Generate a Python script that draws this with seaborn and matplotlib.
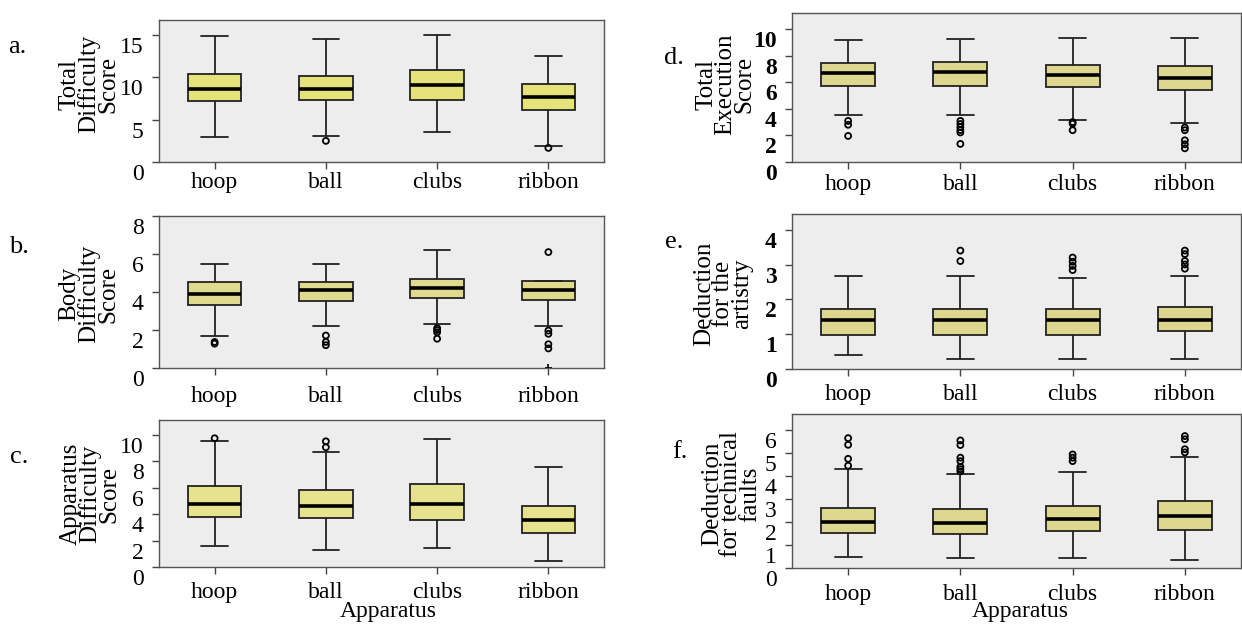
import numpy as np
import pandas as pd
import matplotlib
matplotlib.use('Agg')
import matplotlib.pyplot as plt
import matplotlib.transforms as mtransforms
import seaborn as sns

apparatus = ['hoop', 'ball', 'clubs', 'ribbon']

# per apparatus: lower whisker, Q1, median, Q3, upper whisker
total_difficulty = [[2.9, 7.26, 8.69, 10.36, 14.9],
                    [3.1, 7.3, 8.69, 10.16, 14.5],
                    [3.53, 7.3, 9.13, 10.9, 15.04],
                    [1.87, 6.19, 7.7, 9.17, 12.5]]
total_difficulty_out = [[], [2.5], [], [1.67]]

body_difficulty = [[1.69, 3.32, 3.90, 4.51, 5.50],
                   [2.19, 3.52, 4.09, 4.51, 5.50],
                   [2.31, 3.71, 4.21, 4.70, 6.20],
                   [2.19, 3.57, 4.10, 4.60, 4.60]]
body_difficulty_out = [[1.37, 1.28], [1.71, 1.37, 1.20],
                       [2.10, 2.00, 1.88, 1.54],
                       [6.10, 1.97, 1.80, 1.25, 1.03]]
body_difficulty_extreme = [[], [], [], [0.02]]

apparatus_difficulty = [[1.57, 3.77, 4.78, 6.10, 9.49],
                        [1.29, 3.67, 4.63, 5.80, 8.71],
                        [1.42, 3.52, 4.78, 6.25, 9.70],
                        [0.43, 2.58, 3.52, 4.61, 7.52]]
apparatus_difficulty_out = [[9.72], [9.04, 9.49], [], []]

total_execution = [[3.52, 5.73, 6.66, 7.44, 9.15],
                   [3.52, 5.75, 6.73, 7.49, 9.25],
                   [3.14, 5.63, 6.51, 7.31, 9.30],
                   [2.94, 5.38, 6.31, 7.24, 9.35]]
total_execution_out = [[3.09, 2.80, 1.96],
                       [3.09, 2.86, 2.62, 2.40, 2.22, 1.36],
                       [3.00, 2.88, 2.39],
                       [2.59, 2.39, 1.63, 1.33, 1.03]]

artistry_ded = [[0.40, 0.99, 1.40, 1.71, 2.68],
                [0.29, 0.99, 1.40, 1.71, 2.68],
                [0.29, 0.99, 1.40, 1.71, 2.60],
                [0.29, 1.10, 1.40, 1.79, 2.68]]
artistry_ded_out = [[], [3.10, 3.40], [2.84, 2.96, 3.08, 3.20],
                    [2.88, 3.00, 3.10, 3.30, 3.40]]

technical_ded = [[0.47, 1.53, 2.01, 2.63, 4.29],
                 [0.44, 1.50, 1.95, 2.57, 4.07],
                 [0.44, 1.60, 2.14, 2.70, 4.16],
                 [0.36, 1.64, 2.25, 2.92, 4.84]]
technical_ded_out = [[4.45, 4.75, 5.36, 5.65],
                     [4.20, 4.30, 4.40, 4.65, 4.80, 5.35, 5.55],
                     [4.65, 4.80, 4.94],
                     [5.03, 5.17, 5.60, 5.74]]


def long_form(values):
    rows = []
    for name, vals in zip(apparatus, values):
        for v in vals:
            rows.append((name, v))
    return pd.DataFrame(rows, columns=['apparatus', 'value'])


sns.set_theme(style='ticks')
plt.rcParams['font.family'] = ['Liberation Serif', 'DejaVu Serif']
plt.rcParams['text.color'] = 'black'
plt.rcParams['xtick.labelcolor'] = 'black'
plt.rcParams['ytick.labelcolor'] = 'black'

W, H = 1242, 626
fig = plt.figure(figsize=(W / 100, H / 100), dpi=100)


def px_axes(left, top, right, bottom):
    return fig.add_axes([left / W, 1 - bottom / H, (right - left) / W, (bottom - top) / H])


panels = [
    dict(stats=total_difficulty, out=total_difficulty_out, ext=None,
         frame=(159, 20, 604, 162), ylim=16.8, ticks=[0, 5, 10, 15],
         fill='#e6e27a', bold=False, xpad=2, letter=('a.', 17, 47),
         ylabel=('Total\nDifficulty\nScore', 89, 84)),
    dict(stats=body_difficulty, out=body_difficulty_out, ext=body_difficulty_extreme,
         frame=(159, 216, 604, 368), ylim=8.0, ticks=[0, 2, 4, 6, 8],
         fill='#e0da8e', bold=False, xpad=8, letter=('b.', 19, 247),
         ylabel=('Body\nDifficulty\nScore', 89, 294)),
    dict(stats=apparatus_difficulty, out=apparatus_difficulty_out, ext=None,
         frame=(159, 420, 604, 567), ylim=11.1, ticks=[0, 2, 4, 6, 8, 10],
         fill='#e6e28e', bold=False, xpad=6, letter=('c.', 19, 457),
         ylabel=('Apparatus\nDifficulty\nScore', 90, 494)),
    dict(stats=total_execution, out=total_execution_out, ext=None,
         frame=(792, 13, 1241, 162), ylim=11.2, ticks=[0, 2, 4, 6, 8, 10],
         fill='#ddd78f', bold=True, xpad=4, letter=('d.', 674, 58),
         ylabel=('Total\nExecution\nScore', 725, 84)),
    dict(stats=artistry_ded, out=artistry_ded_out, ext=None,
         frame=(792, 214, 1241, 369), ylim=4.45, ticks=[0, 1, 2, 3, 4],
         fill='#ddd78f', bold=True, xpad=5.5, letter=('e.', 674, 242),
         ylabel=('Deduction\nfor the\nartistry', 723, 294)),
    dict(stats=technical_ded, out=technical_ded_out, ext=None,
         frame=(792, 414, 1241, 568), ylim=6.7, ticks=[0, 1, 2, 3, 4, 5, 6],
         fill='#ddd78f', bold=False, xpad=6.5, letter=('f.', 680, 452),
         ylabel=('Deduction\nfor technical\nfaults', 731, 494)),
]

down = mtransforms.ScaledTranslation(0, -0.10, fig.dpi_scale_trans)

for p in panels:
    ax = px_axes(*p['frame'])
    ax.set_facecolor('#ededed')

    sns.boxplot(data=long_form(p['stats']), x='apparatus', y='value', order=apparatus,
                color=p['fill'], saturation=1, width=0.48, whis=(0, 100),
                showfliers=False, linecolor='#222222', linewidth=1.3,
                medianprops=dict(color='black', linewidth=2.6), ax=ax)

    sns.stripplot(data=long_form(p['out']), x='apparatus', y='value', order=apparatus,
                  jitter=False, size=4.3, color='black', edgecolor='black',
                  linewidth=1.3, ax=ax)
    if p['ext'] is not None:
        sns.stripplot(data=long_form(p['ext']), x='apparatus', y='value', order=apparatus,
                      jitter=False, size=5, marker='+', color='black',
                      edgecolor='black', linewidth=1.2, ax=ax)
    for coll in ax.collections:
        coll.set_facecolor('none')
        coll.set_edgecolor('black')

    ax.set_xlim(-0.5, 3.5)
    ax.set_ylim(0, p['ylim'])
    ax.set_yticks(p['ticks'])
    ax.set_yticklabels([str(t) for t in p['ticks']])
    ax.set_xlabel('')
    ax.set_ylabel('')
    for s in ax.spines.values():
        s.set_color('#555555')
        s.set_linewidth(1.0)
    ax.tick_params(axis='y', direction='out', length=5, width=1, color='#444444',
                   labelsize=17, pad=6)
    ax.tick_params(axis='x', direction='out', length=5, width=1, color='#444444',
                   labelsize=17, pad=p['xpad'])
    for lab in ax.get_yticklabels():
        lab.set_transform(lab.get_transform() + down)
        if p['bold']:
            lab.set_fontweight('bold')

    letter, lx, ly = p['letter']
    fig.text(lx / W, 1 - ly / H, letter, fontsize=19, ha='center', va='center')
    text, tx, ty = p['ylabel']
    fig.text(tx / W, 1 - ty / H, text, fontsize=18, rotation=90, ha='center',
             va='center', multialignment='center', linespacing=0.82)

fig.text(388 / W, 1 - 612 / H, 'Apparatus', fontsize=17, ha='center', va='center')
fig.text(1020 / W, 1 - 612 / H, 'Apparatus', fontsize=17, ha='center', va='center')

fig.savefig('out.png', dpi=100)
